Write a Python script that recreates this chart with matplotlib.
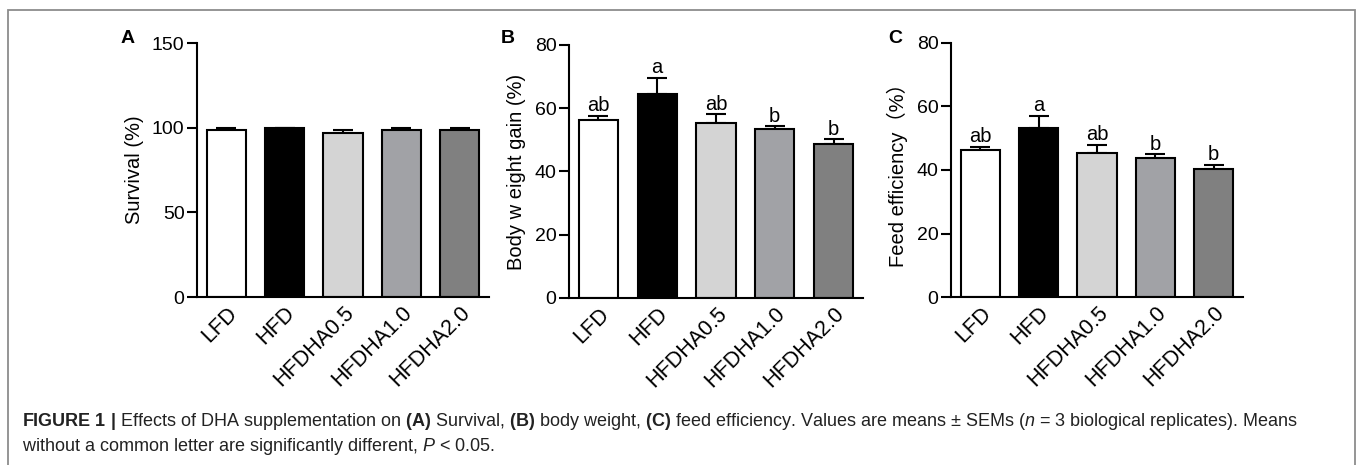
import matplotlib
matplotlib.use('Agg')
import matplotlib.pyplot as plt
from matplotlib.patches import Rectangle

plt.rcParams['font.family'] = ['Liberation Sans', 'Noto Sans CJK SC', 'DejaVu Sans']
plt.rcParams['mathtext.fontset'] = 'custom'
plt.rcParams['mathtext.rm'] = 'Liberation Sans'
plt.rcParams['mathtext.bf'] = 'Liberation Sans:bold'
plt.rcParams['mathtext.it'] = 'Liberation Sans:italic'

# 数据
groups = ['LFD', 'HFD', 'HFDHA0.5', 'HFDHA1.0', 'HFDHA2.0']
survival = [98.8, 100.0, 97.0, 98.8, 98.8]
survival_err = [1.2, 0.0, 1.7, 1.2, 1.2]
weight_gain = [56.3, 64.4, 55.2, 53.4, 48.7]
weight_gain_err = [1.2, 5.3, 2.9, 0.9, 1.5]
weight_letters = ['ab', 'a', 'ab', 'b', 'b']
feed_eff = [46.4, 53.1, 45.5, 43.9, 40.3]
feed_eff_err = [1.0, 4.0, 2.5, 1.05, 1.4]
feed_letters = ['ab', 'a', 'ab', 'b', 'b']

bar_colors = ['#ffffff', '#000000', '#d4d4d4', '#a1a2a6', '#808080']

fig = plt.figure(figsize=(13.57, 4.65), dpi=100)

# 外框
fig.patches.append(Rectangle((8/1357, -0.1), 1347/1357, 1.1 - 10/465, transform=fig.transFigure,
                             fill=False, edgecolor='#8c8c8c', linewidth=1.3))

def panel(rect, vals, errs, ymax, ystep, ylabel, letter, letter_x, letters=None):
    ax = fig.add_axes(rect)
    x = range(len(groups))
    ax.bar(x, vals, width=0.67, color=bar_colors, edgecolor='black', linewidth=1.5, zorder=2)
    ax.errorbar(x, vals, yerr=[[0]*len(vals), errs], fmt='none', ecolor='black',
                elinewidth=1.5, capsize=7.5, capthick=1.5, zorder=1)
    ax.set_xlim(-0.5, 4.5)
    ax.set_ylim(0, ymax)
    ax.set_yticks(range(0, ymax + 1, ystep))
    ax.set_xticks(list(x))
    ax.set_xticklabels(groups, rotation=45, ha='right', rotation_mode='anchor', fontsize=15.5)
    ax.tick_params(axis='x', length=0, pad=4)
    ax.tick_params(axis='y', length=7, width=1.5, labelsize=14, pad=2)
    for s in ['top', 'right']:
        ax.spines[s].set_visible(False)
    for s in ['left', 'bottom']:
        ax.spines[s].set_linewidth(1.5)
    ax.set_ylabel(ylabel, fontsize=14.5, labelpad=6)
    if letters:
        for i, t in enumerate(letters):
            ax.annotate(t, (i, vals[i] + errs[i]), xytext=(0, 0.5), textcoords='offset points',
                        ha='center', va='bottom', fontsize=14.5)
    fig.text(letter_x, 1 - 38/465, letter, fontsize=14, fontweight='bold', ha='center', va='center')
    return ax

panel([197/1357, 1 - 297/465, 292/1357, 254/465], survival, survival_err, 150, 50,
      'Survival (%)', 'A', 128/1357)
panel([569/1357, 1 - 298/465, 294/1357, 253/465], weight_gain, weight_gain_err, 80, 20,
      'Body w eight gain (%)', 'B', 508/1357, weight_letters)
panel([951/1357, 1 - 297/465, 292/1357, 254/465], feed_eff, feed_eff_err, 80, 20,
      'Feed efficiency（%）', 'C', 895/1357, feed_letters)

# 图注
line1 = (r"$\mathbf{FIGURE\ 1\ |}$ Effects of DHA supplementation on $\mathbf{(A)}$ Survival, "
         r"$\mathbf{(B)}$ body weight, $\mathbf{(C)}$ feed efficiency. Values are means $\pm$ SEMs "
         r"($\mathit{n}$ = 3 biological replicates). Means")
line2 = r"without a common letter are significantly different, $\mathit{P}$ < 0.05."
fig.text(22/1357, 1 - 421/465, line1, fontsize=12.95, color='#222222', va='center')
fig.text(22/1357, 1 - 446/465, line2, fontsize=12.95, color='#222222', va='center')

fig.savefig('out.png', dpi=100)
